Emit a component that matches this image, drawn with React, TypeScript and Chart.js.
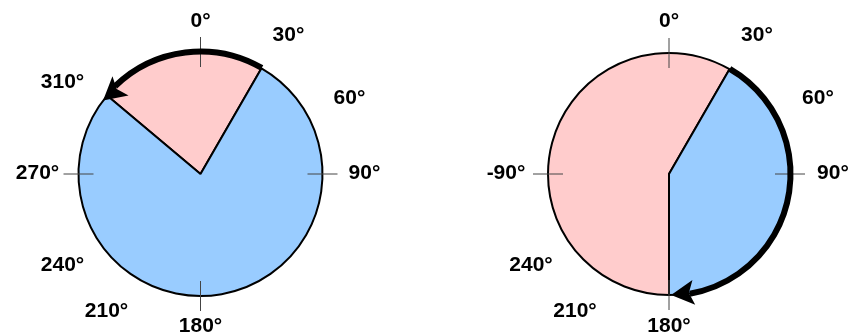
import React, { useEffect, useRef } from "react";
import { Chart, registerables } from "chart.js";

Chart.register(...registerables);

// ---- data ----
const SLICE_NAMES = ["pink", "blue"];
const LEFT_VALUES = [80, 280];
const LEFT_START = 310;
const RIGHT_VALUES = [210, 150];
const RIGHT_START = 180;

const LEFT_LABELS = ["0°", "30°", "60°", "90°", "180°", "210°", "240°", "270°", "310°"];
const LEFT_LABEL_ANGLES = [0, 30, 60, 90, 180, 210, 240, 270, 310];
const RIGHT_LABELS = ["0°", "30°", "60°", "90°", "180°", "210°", "240°", "-90°"];
const RIGHT_LABEL_ANGLES = [0, 30, 60, 90, 180, 210, 240, 270];

const TICK_ANGLES = [0, 90, 180, 270];

const LEFT_ARROW_FROM = 30;
const LEFT_ARROW_TO = -50; // 310°, counter-clockwise
const RIGHT_ARROW_FROM = 30;
const RIGHT_ARROW_TO = 180; // clockwise

// ---- style / layout ----
const PINK = "#FFCCCC";
const BLUE = "#99CCFF";
const FONT = "bold 21px 'Liberation Sans', Arial, sans-serif";
const LABEL_OFFSETS: Record<number, [number, number]> = {
  0: [0, -153],
  30: [88, -139],
  60: [149, -76],
  90: [164, -1],
  180: [0, 152],
  210: [-94, 137],
  240: [-138, 91],
  270: [-163, -1],
  310: [-138, -92],
};

const rad = (deg: number) => ((deg - 90) * Math.PI) / 180;

function makeDecor(
  labels: string[],
  labelAngles: number[],
  arrowFrom: number,
  arrowTo: number,
  tipShift: number,
  headInset: number
) {
  return {
    id: "decor",
    afterDatasetsDraw(chart: any) {
      const ctx = chart.ctx as CanvasRenderingContext2D;
      const el = chart.getDatasetMeta(0).data[0];
      const { x: cx, y: cy, outerRadius: r } = el.getProps(["x", "y", "outerRadius"], true);
      ctx.save();
      // ticks
      ctx.strokeStyle = "#444";
      ctx.lineWidth = 1;
      TICK_ANGLES.forEach((a) => {
        const t = rad(a);
        ctx.beginPath();
        ctx.moveTo(cx + Math.cos(t) * (r - 15), cy + Math.sin(t) * (r - 15));
        ctx.lineTo(cx + Math.cos(t) * (r + 15), cy + Math.sin(t) * (r + 15));
        ctx.stroke();
      });
      // arrow arc
      const R = r + 0.5;
      const dir = Math.sign(arrowTo - arrowFrom);
      const headLen = 23;
      const headHalf = 12.5;
      const notch = 5;
      const tipDeg = arrowTo + dir * tipShift;
      const headDeg = ((headLen / R) * 180) / Math.PI;
      const baseDeg = tipDeg - dir * headDeg;
      ctx.strokeStyle = "#000";
      ctx.fillStyle = "#000";
      ctx.lineWidth = 6;
      ctx.lineCap = "butt";
      ctx.beginPath();
      ctx.arc(cx, cy, R, rad(arrowFrom), rad(baseDeg + dir * 2), dir < 0);
      ctx.stroke();
      const tt = rad(tipDeg);
      const tip = [cx + Math.cos(tt) * r, cy + Math.sin(tt) * r];
      const bt = rad(baseDeg);
      const base = [cx + Math.cos(bt) * (r - headInset), cy + Math.sin(bt) * (r - headInset)];
      let ux = tip[0] - base[0];
      let uy = tip[1] - base[1];
      const len = Math.hypot(ux, uy);
      ux /= len;
      uy /= len;
      const nx = -uy;
      const ny = ux;
      ctx.beginPath();
      ctx.moveTo(tip[0], tip[1]);
      ctx.lineTo(base[0] + nx * headHalf, base[1] + ny * headHalf);
      ctx.lineTo(base[0] + ux * notch, base[1] + uy * notch);
      ctx.lineTo(base[0] - nx * headHalf, base[1] - ny * headHalf);
      ctx.closePath();
      ctx.fill();
      // labels
      ctx.font = FONT;
      ctx.textAlign = "center";
      ctx.textBaseline = "middle";
      ctx.fillStyle = "#000";
      labels.forEach((txt, i) => {
        const off = LABEL_OFFSETS[labelAngles[i]];
        ctx.fillText(txt, cx + off[0], cy + off[1]);
      });
      ctx.restore();
    },
  };
}

function PieCanvas(props: {
  values: number[];
  start: number;
  labels: string[];
  labelAngles: number[];
  arrowFrom: number;
  arrowTo: number;
  tipShift: number;
  headInset: number;
  radius: number;
  padding: { left: number; right: number; top: number; bottom: number };
  left: number;
}) {
  const ref = useRef<HTMLCanvasElement | null>(null);
  useEffect(() => {
    if (!ref.current) return;
    const chart = new Chart(ref.current, {
      type: "pie",
      data: {
        labels: SLICE_NAMES,
        datasets: [
          {
            data: props.values,
            backgroundColor: [PINK, BLUE],
            borderColor: "#000",
            borderWidth: 2,
          },
        ],
      },
      options: {
        animation: false,
        responsive: false,
        rotation: props.start,
        radius: props.radius,
        layout: { padding: props.padding },
        plugins: { legend: { display: false }, tooltip: { enabled: false } },
      } as any,
      plugins: [
        makeDecor(props.labels, props.labelAngles, props.arrowFrom, props.arrowTo, props.tipShift, props.headInset),
      ],
    });
    return () => chart.destroy();
  }, []);
  return (
    <canvas
      ref={ref}
      width={424}
      height={336}
      style={{ position: "absolute", left: props.left, top: 0, width: 424, height: 336 }}
    />
  );
}

export default function App() {
  return (
    <div style={{ position: "absolute", left: 0, top: 0, width: 849, height: 336, background: "#fff" }}>
      <PieCanvas
        values={LEFT_VALUES}
        start={LEFT_START}
        labels={LEFT_LABELS}
        labelAngles={LEFT_LABEL_ANGLES}
        arrowFrom={LEFT_ARROW_FROM}
        arrowTo={LEFT_ARROW_TO}
        tipShift={3}
        headInset={3}
        radius={122}
        padding={{ left: 0, right: 23, top: 12, bottom: 0 }}
        left={0}
      />
      <PieCanvas
        values={RIGHT_VALUES}
        start={RIGHT_START}
        labels={RIGHT_LABELS}
        labelAngles={RIGHT_LABEL_ANGLES}
        arrowFrom={RIGHT_ARROW_FROM}
        arrowTo={RIGHT_ARROW_TO}
        tipShift={-1}
        headInset={0}
        radius={121}
        padding={{ left: 64, right: 0, top: 12, bottom: 0 }}
        left={425}
      />
    </div>
  );
}
